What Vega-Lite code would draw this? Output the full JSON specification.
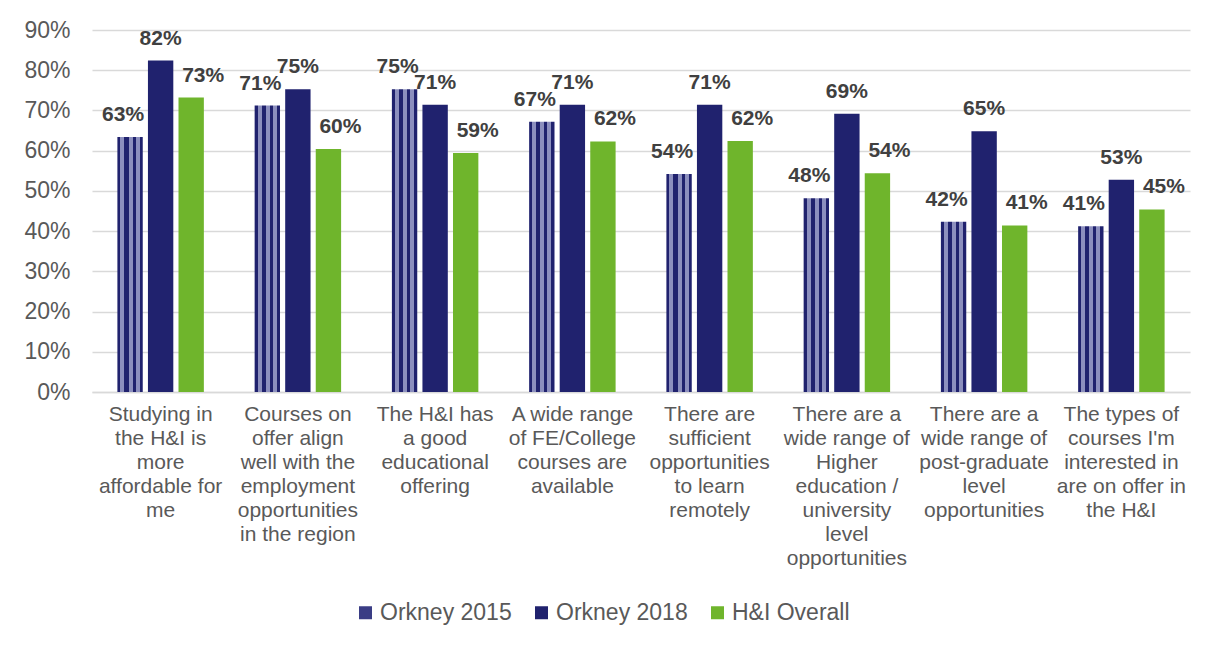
{
  "$schema": "https://vega.github.io/schema/vega-lite/v6.json",
  "width": 1098,
  "height": 362,
  "autosize": "none",
  "padding": {"left": 92, "top": 30, "right": 18, "bottom": 258},
  "background": "white",
  "config": {"font": "Liberation Sans", "view": {"stroke": null}},
  "data": {
    "values": [
      {"statement": "Studying in\nthe H&I is\nmore\naffordable for\nme", "series": "Orkney 2015", "value": 0.634},
      {"statement": "Studying in\nthe H&I is\nmore\naffordable for\nme", "series": "Orkney 2018", "value": 0.824},
      {"statement": "Studying in\nthe H&I is\nmore\naffordable for\nme", "series": "H&I Overall", "value": 0.732},
      {"statement": "Courses on\noffer align\nwell with the\nemployment\nopportunities\nin the region", "series": "Orkney 2015", "value": 0.712},
      {"statement": "Courses on\noffer align\nwell with the\nemployment\nopportunities\nin the region", "series": "Orkney 2018", "value": 0.753},
      {"statement": "Courses on\noffer align\nwell with the\nemployment\nopportunities\nin the region", "series": "H&I Overall", "value": 0.604},
      {"statement": "The H&I has\na good\neducational\noffering", "series": "Orkney 2015", "value": 0.753},
      {"statement": "The H&I has\na good\neducational\noffering", "series": "Orkney 2018", "value": 0.714},
      {"statement": "The H&I has\na good\neducational\noffering", "series": "H&I Overall", "value": 0.594},
      {"statement": "A wide range\nof FE/College\ncourses are\navailable", "series": "Orkney 2015", "value": 0.672},
      {"statement": "A wide range\nof FE/College\ncourses are\navailable", "series": "Orkney 2018", "value": 0.714},
      {"statement": "A wide range\nof FE/College\ncourses are\navailable", "series": "H&I Overall", "value": 0.623},
      {"statement": "There are\nsufficient\nopportunities\nto learn\nremotely", "series": "Orkney 2015", "value": 0.542},
      {"statement": "There are\nsufficient\nopportunities\nto learn\nremotely", "series": "Orkney 2018", "value": 0.714},
      {"statement": "There are\nsufficient\nopportunities\nto learn\nremotely", "series": "H&I Overall", "value": 0.624},
      {"statement": "There are a\nwide range of\nHigher\neducation /\nuniversity\nlevel\nopportunities", "series": "Orkney 2015", "value": 0.482},
      {"statement": "There are a\nwide range of\nHigher\neducation /\nuniversity\nlevel\nopportunities", "series": "Orkney 2018", "value": 0.692},
      {"statement": "There are a\nwide range of\nHigher\neducation /\nuniversity\nlevel\nopportunities", "series": "H&I Overall", "value": 0.544},
      {"statement": "There are a\nwide range of\npost-graduate\nlevel\nopportunities", "series": "Orkney 2015", "value": 0.423},
      {"statement": "There are a\nwide range of\npost-graduate\nlevel\nopportunities", "series": "Orkney 2018", "value": 0.648},
      {"statement": "There are a\nwide range of\npost-graduate\nlevel\nopportunities", "series": "H&I Overall", "value": 0.414},
      {"statement": "The types of\ncourses I'm\ninterested in\nare on offer in\nthe H&I", "series": "Orkney 2015", "value": 0.412},
      {"statement": "The types of\ncourses I'm\ninterested in\nare on offer in\nthe H&I", "series": "Orkney 2018", "value": 0.528},
      {"statement": "The types of\ncourses I'm\ninterested in\nare on offer in\nthe H&I", "series": "H&I Overall", "value": 0.454}
    ]
  },
  "encoding": {
    "x": {
      "field": "statement",
      "type": "nominal",
      "sort": null,
      "scale": {"paddingInner": 0.37, "paddingOuter": 0.185},
      "axis": {
        "title": null,
        "labelAngle": 0,
        "ticks": false,
        "domainColor": "#D9D9D9",
        "domainWidth": 1.5,
        "labelFontSize": 21,
        "labelColor": "#595959",
        "labelLineHeight": 24,
        "labelPadding": 11,
        "labelLimit": 0,
        "labelExpr": "split(datum.label, '\\n')"
      }
    },
    "xOffset": {
      "field": "series",
      "type": "nominal",
      "sort": ["Orkney 2015", "Orkney 2018", "H&I Overall"],
      "scale": {"paddingInner": 0.17}
    },
    "y": {
      "field": "value",
      "type": "quantitative",
      "scale": {"domain": [0, 0.9]},
      "axis": {
        "title": null,
        "format": ".0%",
        "values": [0, 0.1, 0.2, 0.3, 0.4, 0.5, 0.6, 0.7, 0.8, 0.9],
        "ticks": false,
        "domain": false,
        "labelFontSize": 23,
        "labelColor": "#595959",
        "labelPadding": 22,
        "gridColor": "#D9D9D9",
        "gridWidth": 1.5
      }
    }
  },
  "layer": [
    {
      "mark": {"type": "bar", "stroke": null},
      "encoding": {
        "color": {
          "condition": {
            "test": "datum.series === 'Orkney 2015'",
            "value": {
              "gradient": "linear",
              "x1": 0, "y1": 0, "x2": 1, "y2": 0,
              "stops": [
                {"offset": 0, "color": "#20226E"},
                {"offset": 0.12, "color": "#20226E"},
                {"offset": 0.12, "color": "#8C8FBE"},
                {"offset": 0.28, "color": "#8C8FBE"},
                {"offset": 0.28, "color": "#20226E"},
                {"offset": 0.44, "color": "#20226E"},
                {"offset": 0.44, "color": "#8C8FBE"},
                {"offset": 0.6, "color": "#8C8FBE"},
                {"offset": 0.6, "color": "#20226E"},
                {"offset": 0.72, "color": "#20226E"},
                {"offset": 0.72, "color": "#8C8FBE"},
                {"offset": 0.88, "color": "#8C8FBE"},
                {"offset": 0.88, "color": "#20226E"},
                {"offset": 1, "color": "#20226E"}
              ]
            }
          },
          "field": "series",
          "type": "nominal",
          "sort": ["Orkney 2015", "Orkney 2018", "H&I Overall"],
          "scale": {"domain": ["Orkney 2015", "Orkney 2018", "H&I Overall"], "range": ["#3A3D85", "#20226E", "#6FB52C"]},
          "legend": {
            "title": null,
            "orient": "none",
            "legendX": 262,
            "legendY": 571,
            "direction": "horizontal",
            "symbolType": "square",
            "symbolSize": 169,
            "symbolStrokeWidth": 0,
            "labelFontSize": 23,
            "labelColor": "#595959",
            "labelOffset": 3,
            "columnPadding": 18
          }
        }
      }
    },
    {
      "transform": [{"filter": "datum.series === 'Orkney 2015'"}],
      "mark": {"type": "text", "fontWeight": "bold", "fontSize": 21, "color": "#404040", "baseline": "middle", "dy": -22, "dx": -7},
      "encoding": {"text": {"field": "value", "type": "quantitative", "format": ".0%"}}
    },
    {
      "transform": [{"filter": "datum.series === 'Orkney 2018'"}],
      "mark": {"type": "text", "fontWeight": "bold", "fontSize": 21, "color": "#404040", "baseline": "middle", "dy": -22, "dx": 0},
      "encoding": {"text": {"field": "value", "type": "quantitative", "format": ".0%"}}
    },
    {
      "transform": [{"filter": "datum.series === 'H&I Overall'"}],
      "mark": {"type": "text", "fontWeight": "bold", "fontSize": 21, "color": "#404040", "baseline": "middle", "dy": -22, "dx": 12},
      "encoding": {"text": {"field": "value", "type": "quantitative", "format": ".0%"}}
    }
  ]
}
